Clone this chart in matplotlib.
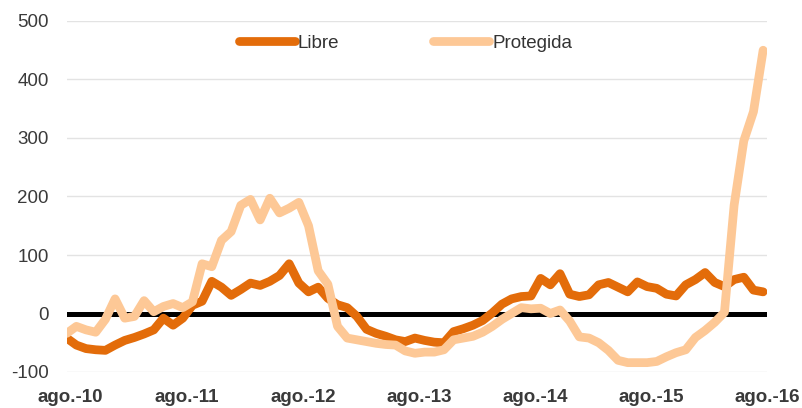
import numpy as np
import matplotlib
matplotlib.use('agg')
import matplotlib.pyplot as plt
import matplotlib.transforms as mtransforms

plt.rcParams['font.family'] = ['Liberation Sans', 'DejaVu Sans']
plt.rcParams['axes.unicode_minus'] = False

# monthly values, ago-10 .. ago-16
libre = [-42, -54, -60, -62, -63, -54, -46, -41, -35, -28,
         -8, -20, -8, 14, 21, 55, 45, 31, 41, 52,
         48, 55, 65, 85, 52, 37, 45, 26, 15, 10,
         -5, -27, -34, -39, -45, -48, -42, -46, -49, -50,
         -31, -26, -20, -12, 1, 16, 25, 29, 30, 60,
         49, 68, 33, 29, 32, 49, 53, 45, 37, 54,
         46, 43, 33, 30, 49, 58, 70, 53, 46, 58,
         62, 40, 37]
protegida = [-34, -22, -28, -32, -10, 25, -8, -5, 22, 3,
             12, 17, 10, 20, 85, 80, 125, 140, 185, 195,
             160, 197, 172, 180, 190, 150, 73, 50, -22, -42,
             -45, -48, -51, -53, -54, -64, -68, -66, -66, -62,
             -45, -42, -39, -32, -22, -10, 0, 10, 8, 9,
             0, 6, -13, -40, -42, -50, -63, -80, -84, -84,
             -84, -82, -74, -67, -62, -41, -29, -15, 2, 185,
             295, 345, 450]
tick_labels = ['ago.-10', 'ago.-11', 'ago.-12', 'ago.-13',
               'ago.-14', 'ago.-15', 'ago.-16']

months = np.arange(len(libre))

fig = plt.figure(figsize=(8.03, 4.08), dpi=100)
ax = fig.add_axes([66.7 / 803, 36 / 408, 700.3 / 803, 351 / 408])

ax.plot(months, libre, color='#E36C0A', lw=6.3, label='Libre',
        solid_capstyle='round', solid_joinstyle='round', zorder=3)
ax.plot(months, protegida, color='#FDC896', lw=6.3, label='Protegida',
        solid_capstyle='round', solid_joinstyle='round', zorder=4)
ax.axhline(0, color='black', lw=3.6, zorder=2)

ax.set_xlim(0, 72.4)
ax.set_ylim(-100, 500)
ax.set_yticks(range(-100, 501, 100))
ax.grid(axis='y', color='#e3e3e3', lw=1, zorder=0)
ax.set_axisbelow(True)
for s in ax.spines.values():
    s.set_visible(False)

ax.set_xticks(range(0, 73, 12))
ax.set_xticklabels(tick_labels, fontweight='bold')
ax.tick_params(axis='both', length=0, labelsize=13.5, labelcolor='#3a3a3a')
ax.tick_params(axis='y', pad=13)
ax.tick_params(axis='x', pad=12)
shift = mtransforms.ScaledTranslation(4 / 100, 0, fig.dpi_scale_trans)
for lab in ax.get_xticklabels():
    lab.set_transform(lab.get_transform() + shift)

fig.legend(loc='center', bbox_to_anchor=(405.5 / 803, 1 - 43 / 408),
           ncol=2, frameon=False, fontsize=13.5, handlelength=3.0,
           handletextpad=0.15, columnspacing=5.0, borderpad=0,
           labelcolor='#333333')

fig.savefig('out.png', dpi=100)
